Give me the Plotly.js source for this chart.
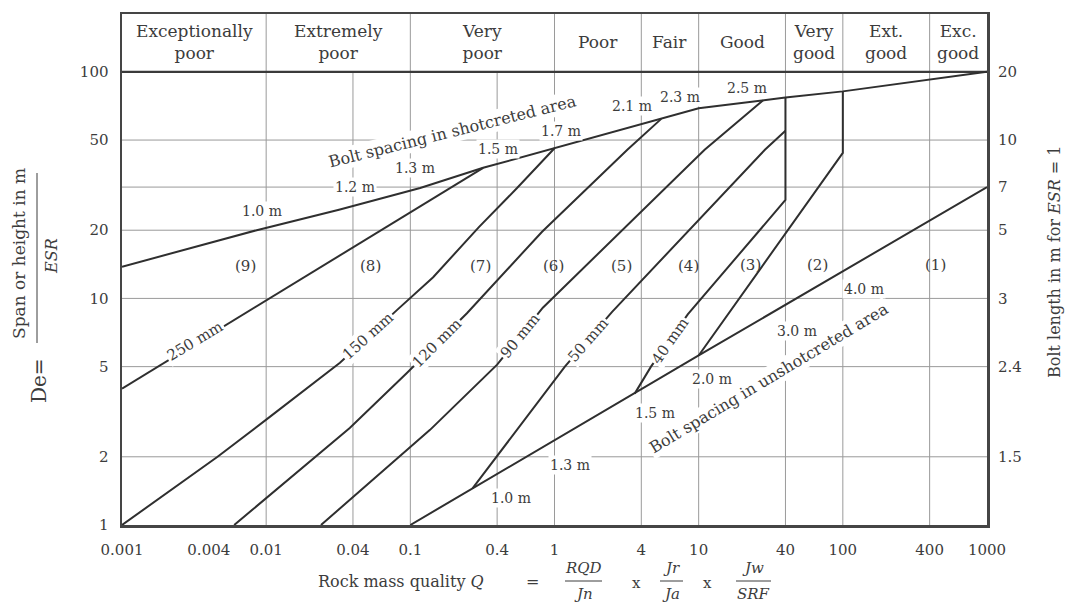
<!DOCTYPE html>
<html>
<head>
<meta charset="utf-8">
<script src="https://cdn.plot.ly/plotly-3.0.1.min.js"></script>
<style>
html,body{margin:0;padding:0;background:#fff;}
#chart{width:1067px;height:607px;}
</style>
</head>
<body>
<div id="chart"></div>
<script>
// ---------------- DATA ----------------
// x axis: rock mass quality Q (log)
const qTicks = [0.001, 0.004, 0.01, 0.04, 0.1, 0.4, 1, 4, 10, 40, 100, 400, 1000];
const qTickText = ['0.001', '0.004', '0.01', '0.04', '0.1', '0.4', '1', '4', '10', '40', '100', '400', '1000'];
// left y axis: equivalent dimension De (log)
const deTicks = [1, 2, 5, 10, 20, 50, 100];
const deTickText = ['1', '2', '5', '10', '20', '50', '100'];
// right y axis: bolt length in m for ESR = 1 (at the De positions)
const boltTickDe = [2, 5, 10, 20, 31, 50, 100];
const boltTickText = ['1.5', '2.4', '3', '5', '7', '10', '20'];
// rock mass classes (header band)
const classNames = ['Exceptionally<br>poor', 'Extremely<br>poor', 'Very<br>poor', 'Poor', 'Fair', 'Good', 'Very<br>good', 'Ext.<br>good', 'Exc.<br>good'];
const classBounds = [0.001, 0.01, 0.1, 1, 4, 10, 40, 100, 400, 1000];
// grid
const gridQ = [0.01, 0.04, 0.1, 0.4, 1, 4, 10, 40, 100, 400];
const gridDe = [2, 5, 10, 20, 31, 50];
const headerDe = 100;
const topDe = 180;

// Bolt spacing in shotcreted area (upper boundary)
const shotQ  = [0.001, 0.003, 0.0086, 0.032, 0.117, 0.32, 1, 5.5, 10, 40, 100, 1000];
const shotDe = [13.8, 16.7, 20, 24.6, 30.7, 37.7, 46, 62, 69, 77, 82, 100];
// Bolt spacing in unshotcreted area (lower boundary)
const unshotQ  = [0.1, 0.27, 3.6, 10, 1000];
const unshotDe = [1, 1.45, 3.8, 5.6, 31];
// Shotcrete thickness boundaries
const t250Q = [0.001, 0.32];
const t250De = [4.0, 37.7];
const t150Q = [0.001, 0.0046, 0.0106, 0.0325, 0.081, 0.144, 0.30, 0.55, 1];
const t150De = [1, 2, 3, 5.2, 8.9, 12.4, 20.7, 30.7, 46];
const t120Q = [0.006, 0.0172, 0.038, 0.095, 0.247, 0.82, 3.2, 5.5];
const t120De = [1, 1.75, 2.68, 4.7, 8.6, 19.7, 45.3, 62];
const t90Q = [0.024, 0.137, 0.40, 0.83, 11, 28];
const t90De = [1, 2.63, 5.1, 9.1, 45.3, 75];
const t50Q = [0.27, 0.55, 1.18, 2.5, 28.8, 40];
const t50De = [1.45, 2.63, 5.0, 8.7, 45.3, 55];
const t40Q = [3.6, 4.67, 8.4, 40, 40];
const t40De = [3.8, 5.0, 8.5, 27.2, 77];
const q100Q = [10, 100, 100];
const q100De = [5.6, 43.9, 82];

// label texts
const upperSpacing = ['1.0 m', '1.2 m', '1.3 m', '1.5 m', '1.7 m', '2.1 m', '2.3 m', '2.5 m'];
const lowerSpacing = ['1.0 m', '1.3 m', '1.5 m', '2.0 m', '3.0 m', '4.0 m'];
const regionText = ['(9)', '(8)', '(7)', '(6)', '(5)', '(4)', '(3)', '(2)', '(1)'];
const thickText = ['250 mm', '150 mm', '120 mm', '90 mm', '50 mm', '40 mm'];

// ---------------- STYLE / LAYOUT ----------------
const W = 1067, H = 607;
const L = 122, R = 987, T = 14, B = 525;
const px = x => (x - L) / (R - L);
const py = y => (B - y) / (B - T);
const INK = '#2f2f2f', TXT = '#3c3c3c', GRID = '#9a9a9a';
const FONT = 'DejaVu Serif';

const traces = [];
// vertical grid lines
(function () {
  const gx = [], gy = [];
  gridQ.forEach(q => {
    const top = classBounds.includes(q) ? topDe : headerDe;
    gx.push(q, q, null); gy.push(1, top, null);
  });
  traces.push({x: gx, y: gy, mode: 'lines', line: {color: GRID, width: 1}, hoverinfo: 'skip'});
  const hx = [], hy = [];
  gridDe.forEach(d => { hx.push(qTicks[0], qTicks[qTicks.length - 1], null); hy.push(d, d, null); });
  traces.push({x: hx, y: hy, mode: 'lines', line: {color: GRID, width: 1}, hoverinfo: 'skip'});
})();
// header separator
traces.push({x: [qTicks[0], qTicks[qTicks.length - 1]], y: [headerDe, headerDe], mode: 'lines', line: {color: '#3a3a3a', width: 2.2}, hoverinfo: 'skip'});

const curves = [
  [shotQ, shotDe], [unshotQ, unshotDe], [t250Q, t250De], [t150Q, t150De], [t120Q, t120De],
  [t90Q, t90De], [t50Q, t50De], [t40Q, t40De], [q100Q, q100De]
];
curves.forEach(c => traces.push({x: c[0], y: c[1], mode: 'lines', line: {color: INK, width: 2}, hoverinfo: 'skip'}));
// dummy trace so the right axis is drawn
traces.push({x: [qTicks[0]], y: [deTicks[0]], yaxis: 'y2', mode: 'markers', marker: {opacity: 0}, hoverinfo: 'skip'});

const ann = [];
function lab(text, x, y, size, angle, bg, extra) {
  ann.push(Object.assign({
    text: text, xref: 'paper', yref: 'paper', x: px(x), y: py(y), showarrow: false,
    xanchor: 'center', yanchor: 'middle', textangle: angle || 0,
    font: {family: FONT, size: size, color: TXT},
    bgcolor: bg ? '#ffffff' : 'rgba(0,0,0,0)', borderpad: 1
  }, extra || {}));
}
// header class names (centred in each class in log space)
classNames.forEach((n, i) => {
  ann.push({
    text: n, xref: 'x', yref: 'paper', x: (Math.log10(classBounds[i]) + Math.log10(classBounds[i + 1])) / 2,
    y: py(42), showarrow: false, xanchor: 'center', yanchor: 'middle',
    font: {family: FONT, size: 17, color: TXT}
  });
});
// spacing labels
const upPos = [[262, 211], [355, 187], [415, 168], [498, 149], [561, 131], [632, 106], [680, 97], [747, 88]];
upperSpacing.forEach((t, i) => lab(t, upPos[i][0], upPos[i][1], 14, 0, true));
const loPos = [[511, 498], [570, 465], [655, 413], [712, 379], [797, 331], [864, 289]];
lowerSpacing.forEach((t, i) => lab(t, loPos[i][0], loPos[i][1], 14, 0, true));
// region numbers
const regPos = [[245, 266], [370, 266], [480, 266], [553, 266], [621, 266], [688, 266], [750, 265], [817, 265], [935, 265]];
regionText.forEach((t, i) => lab(t, regPos[i][0], regPos[i][1], 15, 0, false));
// shotcrete thickness labels
const thPos = [[195, 341, -31], [368, 336, -42], [437, 343, -45], [520, 336, -51], [588, 340, -49], [670, 341, -55]];
thickText.forEach((t, i) => lab(t, thPos[i][0], thPos[i][1], 15, thPos[i][2], true));
// curve names
lab('Bolt spacing in shotcreted area', 452, 131, 16, -14, true);
lab('Bolt spacing in unshotcreted area', 768, 378, 16, -31, true);

// left axis title
lab('Span or height in m', 19, 254, 17, -90, false);
lab('<i>ESR</i>', 51, 256, 16, -90, false);
lab('De=', 39, 381, 20, -90, false);
// right axis title
lab('Bolt length in m for <i>ESR</i> = 1', 1054, 262, 16, -90, false);
// bottom title
lab('Rock mass quality <i>Q</i>', 401, 581, 16, 0, false);
lab('=', 532, 581, 16, 0, false);
lab('<i>RQD</i>', 583, 568, 15, 0, false);
lab('<i>Jn</i>', 583, 594, 15, 0, false);
lab('x', 636, 583, 15, 0, false);
lab('<i>Jr</i>', 671, 568, 15, 0, false);
lab('<i>Ja</i>', 671, 594, 15, 0, false);
lab('x', 707, 583, 15, 0, false);
lab('<i>Jw</i>', 753, 568, 15, 0, false);
lab('<i>SRF</i>', 753, 594, 15, 0, false);

const bar = (x0, x1, y0, y1) => ({type: 'line', xref: 'paper', yref: 'paper', x0: px(x0), x1: px(x1), y0: py(y0), y1: py(y1), line: {color: TXT, width: 1}});
const shapes = [
  bar(37, 37, 173, 343),
  bar(565, 602, 581, 581),
  bar(660, 683, 581, 581),
  bar(736, 771, 581, 581)
];

const yRange = [0, Math.log10(topDe)];
const layout = {
  width: W, height: H,
  margin: {l: L, r: W - R, t: T, b: H - B, pad: 0},
  paper_bgcolor: '#ffffff', plot_bgcolor: '#ffffff',
  showlegend: false, hovermode: false,
  font: {family: FONT, color: TXT, size: 15},
  xaxis: {
    type: 'log', range: [Math.log10(qTicks[0]), Math.log10(qTicks[qTicks.length - 1])],
    tickmode: 'array', tickvals: qTicks, ticktext: qTickText, ticks: '',
    showgrid: false, zeroline: false, showline: true, mirror: true, linecolor: '#454545', linewidth: 2.5,
    tickfont: {family: FONT, size: 15, color: TXT}, ticklabelstandoff: 9
  },
  yaxis: {
    type: 'log', range: yRange, tickmode: 'array', tickvals: deTicks, ticktext: deTickText, ticks: '',
    showgrid: false, zeroline: false, showline: true, mirror: true, linecolor: '#454545', linewidth: 2.5,
    tickfont: {family: FONT, size: 15, color: TXT}, ticklabelstandoff: 8
  },
  yaxis2: {
    type: 'log', range: yRange, overlaying: 'y', side: 'right', tickmode: 'array',
    tickvals: boltTickDe, ticktext: boltTickText, ticks: '', showgrid: false, zeroline: false, showline: false,
    tickfont: {family: FONT, size: 15, color: TXT}, ticklabelstandoff: 10
  },
  annotations: ann,
  shapes: shapes
};

Plotly.newPlot('chart', traces, layout, {staticPlot: true, displayModeBar: false});
</script>
</body>
</html>
